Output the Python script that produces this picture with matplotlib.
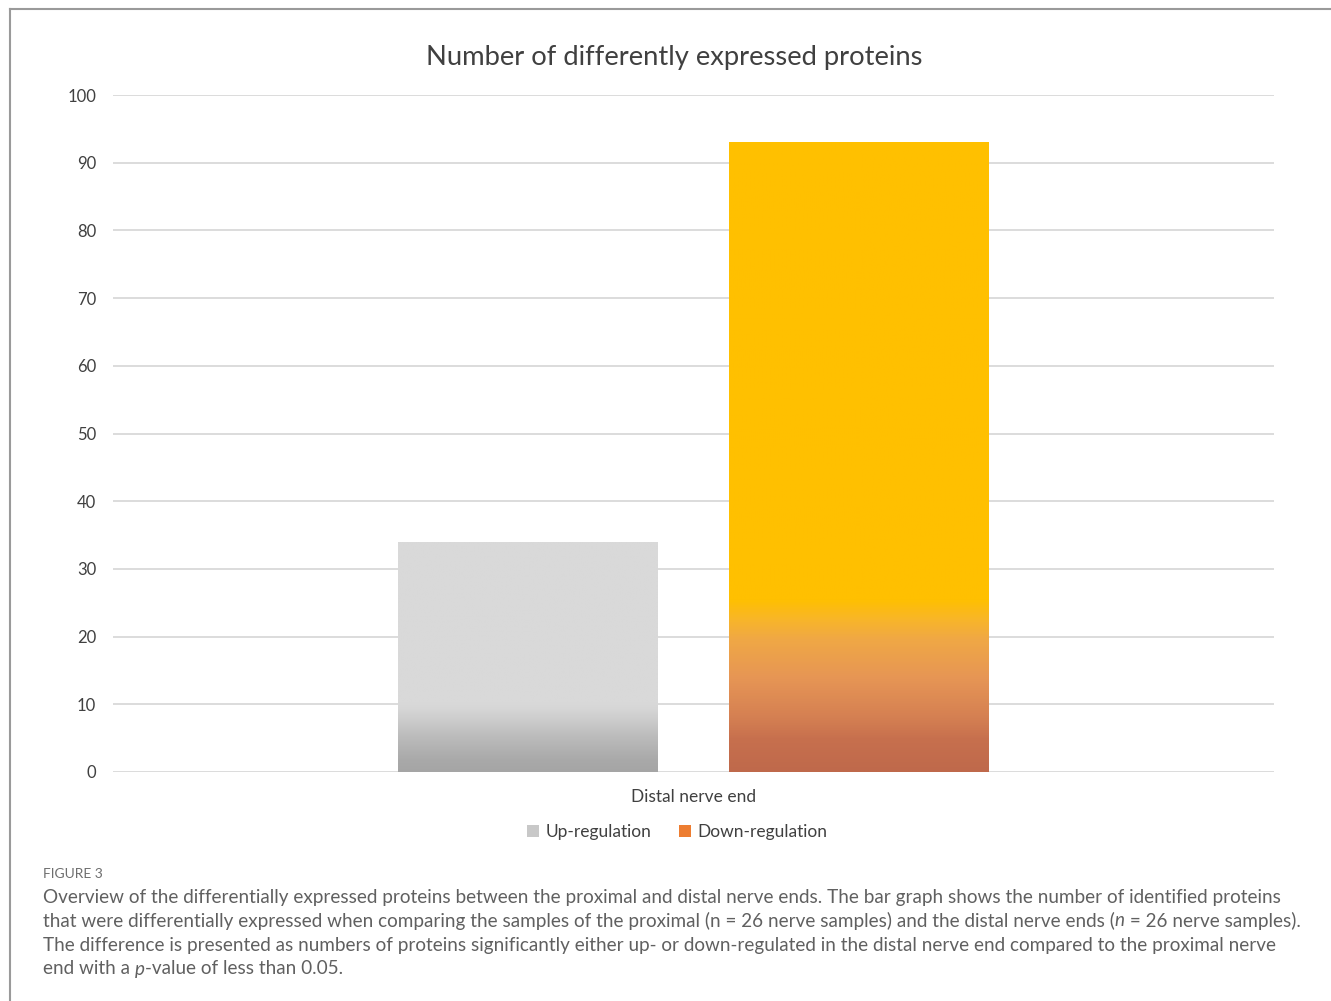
import numpy as np
import matplotlib
matplotlib.use("Agg")
import matplotlib.pyplot as plt
from matplotlib.colors import LinearSegmentedColormap
from matplotlib.patches import Patch
from matplotlib.lines import Line2D

# ---- data ----
category = "Distal nerve end"
series_names = ["Up-regulation", "Down-regulation"]
series_values = [34, 93]
yticks = [0, 10, 20, 30, 40, 50, 60, 70, 80, 90, 100]
title = "Number of differently expressed proteins"

# gradient stops per series: (fraction of bar height from bottom, colour)
gradients = [
    [(0.0, "#a5a5a5"), (0.05, "#a9a9a9"), (0.16, "#bdbdbd"), (0.27, "#d6d6d6"),
     (0.30, "#d9d9d9"), (1.0, "#d9d9d9")],
    [(0.0, "#bf694b"), (0.051, "#c7704e"), (0.083, "#d47f52"), (0.146, "#e69555"),
     (0.21, "#f0a845"), (0.24, "#f8b52a"), (0.273, "#ffc000"), (1.0, "#ffc000")],
]
legend_colors = ["#c8c8c8", "#ed7d31"]

plt.rcParams["font.family"] = ["Lato", "DejaVu Sans"]

W, H = 1331, 1001
fig = plt.figure(figsize=(W / 100, H / 100), dpi=100)

# outer frame (left and top edges)
frame_color = "#9a9a9a"
fig.add_artist(Line2D([10 / W, 10 / W], [0, 1 - 9 / H], transform=fig.transFigure,
                      color=frame_color, lw=1.5))
fig.add_artist(Line2D([10 / W, 1], [1 - 9 / H, 1 - 9 / H], transform=fig.transFigure,
                      color=frame_color, lw=1.5))

ax_l, ax_r, ax_t, ax_b = 113, 1274, 95, 772
ax = fig.add_axes([ax_l / W, 1 - ax_b / H, (ax_r - ax_l) / W, (ax_b - ax_t) / H])

bar_w = 260 / 1161
gap = 71 / 1161
offsets = [-(bar_w + gap) / 2, (bar_w + gap) / 2]

ax.set_xlim(-0.5, 0.5)
ax.set_ylim(0, 100)
ax.set_yticks(yticks)
ax.set_yticklabels([str(t) for t in yticks], fontsize=12, color="#404040")
ax.tick_params(axis="y", length=0, pad=12)
ax.set_xticks([0])
ax.set_xticklabels([category], fontsize=12.5, color="#404040")
ax.tick_params(axis="x", length=0, pad=12)
for s in ax.spines.values():
    s.set_visible(False)
ax.yaxis.grid(True, color="#d9d9d9", lw=1.3)
ax.set_axisbelow(True)

for off, val, stops in zip(offsets, series_values, gradients):
    bars = ax.bar(off, val, width=bar_w, color="none", edgecolor="none", zorder=2)
    rect = bars[0]
    cmap = LinearSegmentedColormap.from_list("g", stops)
    grad = np.linspace(0, 1, 512).reshape(-1, 1)
    x0 = rect.get_x()
    im = ax.imshow(grad, cmap=cmap, origin="lower", aspect="auto",
                   extent=[x0, x0 + rect.get_width(), 0, rect.get_height()],
                   zorder=2, interpolation="bilinear")
    im.set_clip_path(rect)
ax.set_xlim(-0.5, 0.5)
ax.set_ylim(0, 100)

fig.text(674 / W, 1 - 57 / H, title, ha="center", va="center", fontsize=19.7, color="#404040")

handles = [Patch(facecolor=c, edgecolor="none") for c in legend_colors]
fig.legend(handles, series_names, loc="center", bbox_to_anchor=(677 / W, 1 - 832 / H),
           ncol=2, frameon=False, fontsize=12.5, handlelength=0.7, handleheight=0.7,
           handletextpad=0.35, columnspacing=1.6, labelcolor="#404040")

# caption
cap_color = "#606060"
fig.text(43 / W, 1 - 874 / H, "FIGURE 3", ha="left", va="center", fontsize=10,
         color="#6e6e6e")

# each caption line is a list of (text, italic) runs
cap_lines = [
    [("Overview of the differentially expressed proteins between the proximal and distal nerve ends. The bar graph shows the number of identified proteins", False)],
    [("that were differentially expressed when comparing the samples of the proximal (n = 26 nerve samples) and the distal nerve ends (", False),
     ("n", True), (" = 26 nerve samples).", False)],
    [("The difference is presented as numbers of proteins significantly either up- or down-regulated in the distal nerve end compared to the proximal nerve", False)],
    [("end with a ", False), ("p", True), ("-value of less than 0.05.", False)],
]
fig.canvas.draw()
renderer = fig.canvas.get_renderer()
for i, runs in enumerate(cap_lines):
    x = 43
    y = 1 - (897 + 24 * i) / H
    for txt, it in runs:
        t = fig.text(x / W, y, txt, ha="left", va="center", fontsize=13.6,
                     color=cap_color, style="italic" if it else "normal")
        bb = t.get_window_extent(renderer=renderer)
        x += bb.width

fig.savefig("out.png", dpi=100)
